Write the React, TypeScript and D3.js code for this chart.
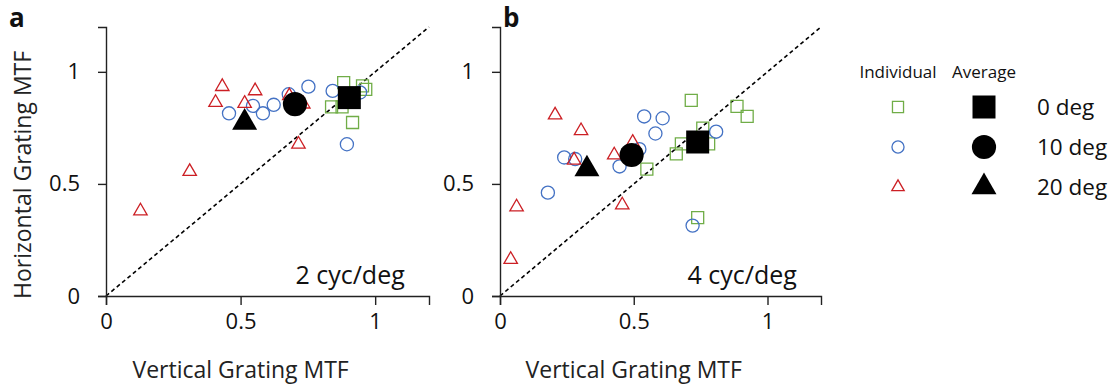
import React, { useEffect, useRef } from 'react';
import * as d3 from 'd3';

// panel a (2 cyc/deg) individual observers: [vertical, horizontal]
const a0deg = [[0.883, 0.952], [0.838, 0.844], [0.877, 0.844], [0.965, 0.922], [0.916, 0.774], [0.953, 0.937]];
const a10deg = [[0.457, 0.815], [0.546, 0.848], [0.583, 0.815], [0.623, 0.853], [0.679, 0.9], [0.752, 0.934], [0.842, 0.915], [0.944, 0.908], [0.895, 0.677]];
const a20deg = [[0.128, 0.379], [0.311, 0.555], [0.407, 0.863], [0.432, 0.934], [0.515, 0.859], [0.554, 0.915], [0.681, 0.893], [0.733, 0.856], [0.715, 0.677]];
const aAvg = [[0.904, 0.885], [0.702, 0.856], [0.515, 0.774]];

// panel b (4 cyc/deg)
const b0deg = [[0.549, 0.566], [0.659, 0.634], [0.678, 0.679], [0.715, 0.873], [0.758, 0.749], [0.78, 0.679], [0.886, 0.846], [0.924, 0.801], [0.739, 0.35]];
const b10deg = [[0.179, 0.461], [0.24, 0.618], [0.281, 0.611], [0.447, 0.578], [0.521, 0.655], [0.539, 0.801], [0.608, 0.793], [0.581, 0.725], [0.808, 0.733], [0.72, 0.314]];
const b20deg = [[0.04, 0.163], [0.062, 0.397], [0.206, 0.807], [0.303, 0.737], [0.277, 0.606], [0.427, 0.629], [0.496, 0.685], [0.457, 0.406]];
const bAvg = [[0.739, 0.687], [0.492, 0.629], [0.325, 0.566]];

const ticks = [0, 0.5, 1];
const tickLabels = ['0', '0.5', '1'];
const seriesNames = ['0 deg', '10 deg', '20 deg'];
const seriesColors = ['#70ad47', '#4472c4', '#cc1f24'];
const shapes = [d3.symbolSquare, d3.symbolCircle, d3.symbolTriangle];
const smallSizes = [144, 135, 78];
const bigSizes = [529, 460, 270];

const FONT = "'Open Sans', sans-serif";

type Pt = number[];

const Panel = ({ x0, width, label, freq, series, avg, showYTitle }:
  { x0: number; width: number; label: string; freq: string; series: Pt[][]; avg: Pt[]; showYTitle: boolean }) => {
  const ref = useRef<SVGGElement>(null);

  useEffect(() => {
    const g = d3.select(ref.current);
    g.selectAll('*').remove();
    const top = 27, bottom = 296;
    const x = d3.scaleLinear().domain([0, 1.2]).range([x0, x0 + width]);
    const y = d3.scaleLinear().domain([0, 1.2]).range([bottom, top]);

    // dashed identity line
    g.append('line')
      .attr('x1', x(0)).attr('y1', y(0)).attr('x2', x(1.2)).attr('y2', y(1.2))
      .attr('stroke', '#000').attr('stroke-width', 1.6).attr('stroke-dasharray', '4,3');

    const xAxis = g.append('g')
      .attr('transform', `translate(0,${bottom})`)
      .call(d3.axisBottom(x).tickValues(ticks).tickSizeOuter(0).tickSize(9).tickFormat((d, i) => tickLabels[i]));
    xAxis.selectAll('text').attr('font-size', 22).attr('font-family', FONT).attr('fill', '#111').attr('dy', '0.95em');

    const yAxis = g.append('g')
      .attr('transform', `translate(${x0},0)`)
      .call(d3.axisLeft(y).tickValues(ticks).tickSizeOuter(0).tickSize(8).tickFormat((d, i) => tickLabels[i]));
    yAxis.selectAll('text').attr('font-size', 22).attr('font-family', FONT).attr('fill', '#111').attr('x', -26);
    g.selectAll('.domain, .tick line').attr('stroke', '#222').attr('stroke-width', 1.4);

    // individual observers
    series.forEach((pts, si) => {
      g.append('g').selectAll('path')
        .data(pts)
        .enter().append('path')
        .attr('d', d3.symbol(shapes[si], smallSizes[si]) as any)
        .attr('transform', d => `translate(${x(d[0])},${y(d[1])})`)
        .attr('fill', 'none')
        .attr('stroke', seriesColors[si])
        .attr('stroke-width', 1.3);
    });

    // averages
    g.append('g').selectAll('path')
      .data(avg)
      .enter().append('path')
      .attr('d', (d, i) => d3.symbol(shapes[i], bigSizes[i])() as string)
      .attr('transform', d => `translate(${x(d[0])},${y(d[1])})`)
      .attr('fill', '#000');

    g.append('text')
      .attr('x', x(1.11)).attr('y', 284)
      .attr('text-anchor', 'end')
      .attr('font-size', 25).attr('font-family', FONT).attr('fill', '#111')
      .text(freq);

    g.append('text')
      .attr('x', x(0.5)).attr('y', 378)
      .attr('text-anchor', 'middle')
      .attr('font-size', 23).attr('font-family', FONT).attr('fill', '#222')
      .text('Vertical Grating MTF');

    if (showYTitle) {
      g.append('text')
        .attr('transform', `translate(31,${y(0.54)}) rotate(-90)`)
        .attr('text-anchor', 'middle')
        .attr('font-size', 23).attr('font-family', FONT).attr('fill', '#222')
        .text('Horizontal Grating MTF');
    }

    g.append('text')
      .attr('x', x0 - (label === 'a' ? 97 : -3)).attr('y', 27)
      .attr('font-size', 26).attr('font-weight', 'bold').attr('font-family', FONT).attr('fill', '#111')
      .text(label);
  }, []);

  return <g ref={ref} />;
};

const Legend = () => {
  const ref = useRef<SVGGElement>(null);
  useEffect(() => {
    const g = d3.select(ref.current);
    g.selectAll('*').remove();
    const rowY = d3.scalePoint().domain(seriesNames).range([107, 187]);
    g.append('text').attr('x', 898).attr('y', 78).attr('text-anchor', 'middle')
      .attr('font-size', 17).attr('font-family', FONT).attr('fill', '#111').text('Individual');
    g.append('text').attr('x', 984).attr('y', 78).attr('text-anchor', 'middle')
      .attr('font-size', 17).attr('font-family', FONT).attr('fill', '#111').text('Average');
    seriesNames.forEach((name, i) => {
      const yy = rowY(name) as number;
      g.append('path')
        .attr('d', d3.symbol(shapes[i], smallSizes[i] * 0.85)() as string)
        .attr('transform', `translate(898,${yy})`)
        .attr('fill', 'none').attr('stroke', seriesColors[i]).attr('stroke-width', 1.3);
      g.append('path')
        .attr('d', d3.symbol(shapes[i], bigSizes[i])() as string)
        .attr('transform', `translate(984,${yy})`)
        .attr('fill', '#000');
      g.append('text').attr('x', 1037).attr('y', yy).attr('dy', '0.35em')
        .attr('font-size', 22.5).attr('font-family', FONT).attr('fill', '#111').text(name);
    });
  }, []);
  return <g ref={ref} />;
};

export default function App() {
  return (
    <svg width={1114} height={386} style={{ position: 'absolute', left: 0, top: 0, background: '#fff' }}>
      <Panel x0={106} width={323} label="a" freq="2 cyc/deg" series={[a0deg, a10deg, a20deg]} avg={aAvg} showYTitle />
      <Panel x0={500} width={321} label="b" freq="4 cyc/deg" series={[b0deg, b10deg, b20deg]} avg={bAvg} showYTitle={false} />
      <Legend />
    </svg>
  );
}
